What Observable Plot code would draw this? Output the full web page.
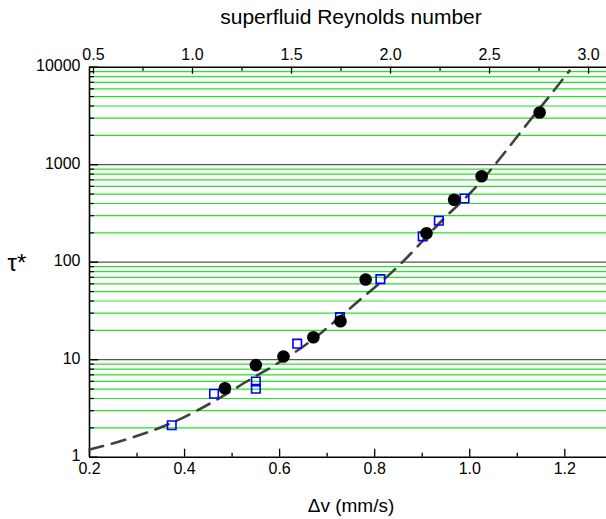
<!DOCTYPE html>
<html><head><meta charset="utf-8">
<script src="https://cdn.jsdelivr.net/npm/d3@7"></script>
<script src="https://cdn.jsdelivr.net/npm/@observablehq/plot@0.6"></script>
<style>body{margin:0;background:#fff;} svg{display:block;}</style>
</head><body><div id="chart"></div>
<script>
// Data
const circleDv  = [0.485, 0.550, 0.608, 0.671, 0.728, 0.781, 0.909, 0.967, 1.025, 1.147];
const circleTau = [5.1,   8.8,   10.8,  17.0,  24.8,  66.5,  198,   437,   762,   3430];
const squareDv  = [0.373, 0.462, 0.550, 0.550, 0.637, 0.727, 0.812, 0.901, 0.935, 0.989];
const squareTau = [2.13,  4.47,  5.98,  5.03,  14.6,  27.3,  67,    184,   266,   450];
// dashed fit curve
const fitDv  = [0.200, 0.286, 0.381, 0.461, 0.549, 0.581, 0.665, 0.728, 0.763, 0.812, 0.854, 0.938, 1.016, 1.077, 1.121, 1.164, 1.210];
const fitTau = [1.20,  1.57,  2.34,  3.72,  6.76,  8.3,   15.5,  27.7,  38.9,  61.7,  95.5,  257,   612,   1400,  2630,  4790,  9230];

const xTicks = [0.2, 0.4, 0.6, 0.8, 1.0, 1.2];
const xTickLabels = ["0.2", "0.4", "0.6", "0.8", "1.0", "1.2"];
const xMinorTicks = [0.3, 0.5, 0.7, 0.9, 1.1];
const yTicks = [1, 10, 100, 1000, 10000];
const yTickLabels = ["1", "10", "100", "1000", "10000"];
const yDecadeGrid = [10, 100, 1000];
const yMinorTicks = [2,3,4,5,6,7,8,9, 20,30,40,50,60,70,80,90, 200,300,400,500,600,700,800,900, 2000,3000,4000,5000,6000,7000,8000,9000];
const reTicks = [0.5, 1.0, 1.5, 2.0, 2.5, 3.0];
const reTickLabels = ["0.5", "1.0", "1.5", "2.0", "2.5", "3.0"];
const reMinorTicks = [0.75, 1.25, 1.75, 2.25, 2.75];
const reRatio = 2.4; // superfluid Reynolds number per (mm/s)

const circles = circleDv.map((d, i) => ({dv: d, tau: circleTau[i]}));
const squares = squareDv.map((d, i) => ({dv: d, tau: squareTau[i]}));
const fit = fitDv.map((d, i) => ({dv: d, tau: fitTau[i]}));
const xLab = xTicks.map((d, i) => ({v: d, t: xTickLabels[i]}));
const yLab = yTicks.map((d, i) => ({v: d, t: yTickLabels[i]}));
const reLab = reTicks.map((d, i) => ({v: d / reRatio, t: reTickLabels[i]}));

const FH = 390, FW = 517;
const font = "Liberation Sans, Arial, Helvetica, sans-serif";

const chart = Plot.plot({
  width: 606, height: 519,
  marginLeft: 89, marginRight: 0, marginTop: 66.7, marginBottom: 62.3,
  style: {fontFamily: font, background: "#fff", color: "#000"},
  x: {domain: [0.2, 1.2877], axis: null},
  y: {type: "log", domain: [1, 10000], axis: null},
  marks: [
    Plot.ruleY(yMinorTicks, {stroke: "#22e622", strokeWidth: 1.2}),
    Plot.ruleY(yDecadeGrid, {stroke: "#555", strokeWidth: 1.2}),
    // frame
    Plot.ruleY([10000], {stroke: "#000", strokeWidth: 1.6}),
    Plot.ruleY([1], {stroke: "#000", strokeWidth: 1.6}),
    Plot.ruleX([0.2], {stroke: "#000", strokeWidth: 1.6}),
    // left ticks (inward)
    Plot.ruleY(yMinorTicks, {stroke: "#000", strokeWidth: 1.2, insetRight: FW - 5}),
    Plot.ruleY(yTicks, {stroke: "#000", strokeWidth: 1.4, insetRight: FW - 9}),
    // bottom ticks (inward)
    Plot.ruleX(xTicks, {stroke: "#000", strokeWidth: 1.3, insetTop: FH - 8}),
    Plot.ruleX(xMinorTicks, {stroke: "#000", strokeWidth: 1.3, insetTop: FH - 4}),
    // top ticks (inward), Reynolds number axis
    Plot.ruleX(reLab, {x: "v", stroke: "#000", strokeWidth: 1.3, insetBottom: FH - 7}),
    Plot.ruleX(reMinorTicks.map(d => d / reRatio), {stroke: "#000", strokeWidth: 1.3, insetBottom: FH - 4}),
    // tick labels
    Plot.text(xLab, {x: "v", text: "t", frameAnchor: "bottom", dy: 16.5, fontSize: 16}),
    Plot.text(yLab, {y: "v", text: "t", frameAnchor: "left", textAnchor: "end", dx: -9, dy: -1, fontSize: 16}),
    Plot.text(reLab, {x: "v", text: "t", frameAnchor: "top", dy: -18.4, fontSize: 16}),
    // axis titles
    Plot.text(["superfluid Reynolds number"], {frameAnchor: "top", lineAnchor: "bottom", dx: 3, dy: -42.7, fontSize: 21}),
    Plot.text(["\u0394v (mm/s)"], {frameAnchor: "bottom", lineAnchor: "bottom", dx: 3, dy: 54.8, fontSize: 19}),
    Plot.text(["\u03c4*"], {frameAnchor: "left", textAnchor: "start", lineAnchor: "bottom", dx: -82, dy: 9, fontSize: 24}),
    // data
    Plot.line(fit, {x: "dv", y: "tau", stroke: "#404040", strokeWidth: 2.6, strokeDasharray: "14,9", curve: "monotone-x"}),
    Plot.dot(squares, {x: "dv", y: "tau", symbol: "square", r: 4.8, stroke: "#0000ff", strokeWidth: 1.6, fill: "none"}),
    Plot.dot(circles, {x: "dv", y: "tau", r: 6.3, fill: "#000", stroke: "none"})
  ]
});
document.getElementById("chart").appendChild(chart);
</script>
</body></html>
